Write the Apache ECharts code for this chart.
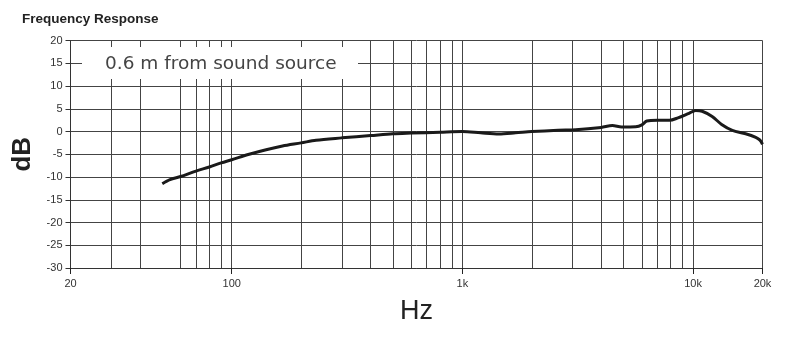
<!DOCTYPE html>
<html><head><meta charset="utf-8">
<script src="https://cdn.jsdelivr.net/npm/echarts@6/dist/echarts.min.js"></script>
<style>html,body{margin:0;padding:0;background:#fff}#c{width:800px;height:339px}</style>
</head><body><div id="c"></div>
<script>
// Frequency (Hz) and level (dB)
const freqHz = [50, 54, 60, 70, 80, 90, 100, 119, 141, 166, 200, 232, 300, 400, 500, 600, 800, 1000, 1200, 1440, 1700, 2000, 2600, 3100, 4000, 4470, 4900, 5640, 6000, 6300, 7000, 7900, 8600, 9600, 10260, 10950, 12100, 13300, 14800, 16900, 18700, 19500, 20000];
const levelDb = [-11.5, -10.6, -9.9, -8.7, -7.8, -6.9, -6.2, -5.0, -4.0, -3.2, -2.5, -1.9, -1.4, -0.9, -0.5, -0.35, -0.15, 0, -0.3, -0.55, -0.3, 0, 0.3, 0.4, 0.9, 1.3, 1.0, 1.05, 1.45, 2.3, 2.45, 2.45, 3.0, 4.0, 4.6, 4.45, 3.3, 1.55, 0.25, -0.5, -1.3, -1.9, -2.8];
// Vertical grid lines present in the reference (note: no 50 Hz line)
const gridFreqs = [30, 40, 60, 70, 80, 90, 100, 200, 300, 400, 500, 600, 700, 800, 900, 1000, 2000, 3000, 4000, 5000, 6000, 7000, 8000, 9000, 10000, 20000];
// Axis extent; log axis ticks/labels fall on 20, 100, 1k, 10k, 20k
const xMin = 20, xMax = 20000;
const yMin = -30, yMax = 20, yStep = 5;
const titleText = 'Frequency Response';
const noteText = '0.6 m from sound source';

const gridColor = '#444';
const chart = echarts.init(document.getElementById('c'), null, {renderer: 'canvas'});
chart.setOption({
  animation: false,
  backgroundColor: '#fff',
  title: {
    text: titleText, left: 17, top: 7,
    textStyle: {fontFamily: 'Liberation Sans, Arial, sans-serif', fontSize: 13.5, fontWeight: 'bold', color: '#222'}
  },
  grid: {left: 70.5, right: 37.5, top: 40.5, bottom: 71},
  xAxis: {
    type: 'log', logBase: 10, min: xMin, max: xMax,
    name: 'Hz', nameLocation: 'middle', nameGap: 30,
    nameTextStyle: {fontFamily: 'Liberation Sans, Arial, sans-serif', fontSize: 27, color: '#222', verticalAlign: 'top'},
    axisLine: {show: true, onZero: false, lineStyle: {color: '#333', width: 1}},
    axisTick: {show: true, inside: false, length: 6, interval: 0, lineStyle: {color: '#222', width: 1, opacity: 1}},
    minorTick: {show: false},
    splitLine: {show: false},
    axisLabel: {
      margin: 10, fontSize: 11, color: '#333', fontFamily: 'Liberation Sans, Arial, sans-serif',
      showMinLabel: true, showMaxLabel: true, hideOverlap: false,
      formatter: v => v >= 1000 ? (Math.round(v / 1000) + 'k') : String(Math.round(v))
    }
  },
  yAxis: {
    type: 'value', min: yMin, max: yMax, interval: yStep,
    name: 'dB', nameLocation: 'middle', nameGap: 34, nameRotate: 90,
    nameTextStyle: {fontFamily: 'Liberation Sans, Arial, sans-serif', fontSize: 26, fontWeight: 'bold', color: '#222'},
    axisLine: {show: true, onZero: false, lineStyle: {color: '#333', width: 1}},
    axisTick: {show: true, length: 5, lineStyle: {color: '#333'}},
    splitLine: {show: true, lineStyle: {color: gridColor, width: 1}},
    axisLabel: {margin: 8, fontSize: 11, color: '#333', fontFamily: 'Liberation Sans, Arial, sans-serif'}
  },
  series: [{
    type: 'line',
    data: freqHz.map((f, i) => [f, levelDb[i]]),
    showSymbol: false, smooth: 0.3,
    lineStyle: {color: '#1a1a1a', width: 3},
    z: 5,
    markLine: {
      silent: true, symbol: 'none', label: {show: false},
      lineStyle: {color: gridColor, width: 1, type: 'solid'},
      animation: false,
      data: gridFreqs.map(f => ({xAxis: f}))
    }
  }],
  graphic: [
    {type: 'rect', z: 100, zlevel: 1, shape: {x: 82, y: 47, width: 276, height: 32}, style: {fill: '#fff'}},
    {type: 'text', z: 101, zlevel: 1, x: 105, y: 64.5, style: {text: noteText, fontFamily: 'DejaVu Sans, sans-serif', fontSize: 18.5, fill: '#444', verticalAlign: 'middle'}}
  ]
});
</script></body></html>
